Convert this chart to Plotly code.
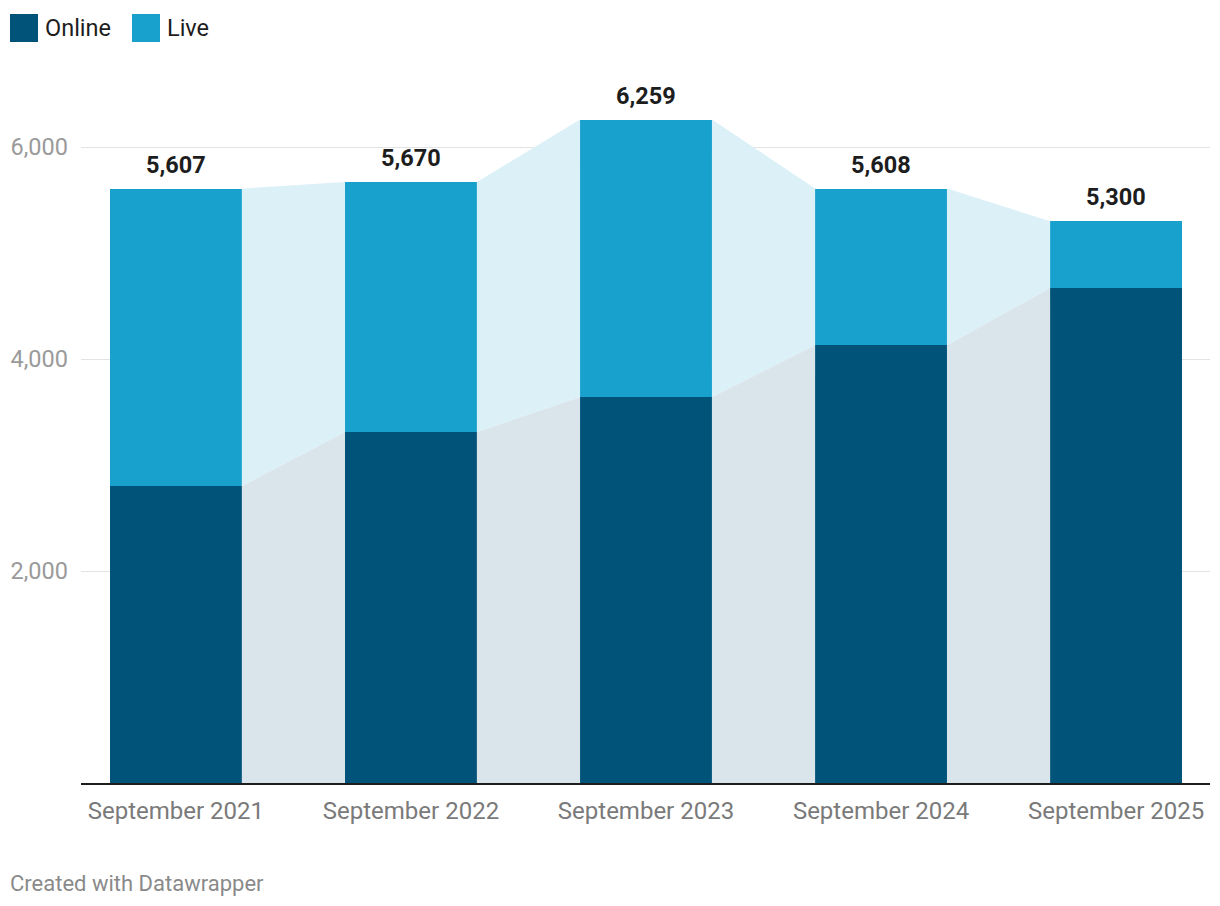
import plotly.graph_objects as go

categories = ["September 2021", "September 2022", "September 2023", "September 2024", "September 2025"]
online = [2800, 3310, 3640, 4130, 4670]
total = [5607, 5670, 6259, 5608, 5300]
live = [t - o for t, o in zip(total, online)]
total_labels = ["5,607", "5,670", "6,259", "5,608", "5,300"]

C_ONLINE = "#01537a"
C_LIVE = "#18a1cd"
C_LIVE_AREA = "#dcf0f7"
C_ONLINE_AREA = "#d9e4eb"
W = 0.561

xs = list(range(len(categories)))
fig = go.Figure()

# connecting areas
for i in range(len(xs) - 1):
    xa = xs[i] + W / 2
    xb = xs[i + 1] - W / 2
    fig.add_trace(go.Scatter(
        x=[xa, xb, xb, xa, xa], y=[total[i], total[i + 1], online[i + 1], online[i], total[i]],
        fill="toself", fillcolor=C_LIVE_AREA, line=dict(width=0), mode="lines",
        hoverinfo="skip", showlegend=False))
    fig.add_trace(go.Scatter(
        x=[xa, xb, xb, xa, xa], y=[online[i], online[i + 1], 0, 0, online[i]],
        fill="toself", fillcolor=C_ONLINE_AREA, line=dict(width=0), mode="lines",
        hoverinfo="skip", showlegend=False))

fig.add_trace(go.Bar(x=xs, y=online, name="Online", marker=dict(color=C_ONLINE, line=dict(width=0)),
                     width=W, showlegend=False))
fig.add_trace(go.Bar(x=xs, y=live, name="Live", marker=dict(color=C_LIVE, line=dict(width=0)),
                     width=W, showlegend=False))

annotations = []
for x, t, lab in zip(xs, total, total_labels):
    annotations.append(dict(x=x, y=t, text="<b>" + lab + "</b>", showarrow=False,
                            xref="x", yref="y", yanchor="bottom", yshift=8,
                            font=dict(family="Roboto", size=23.5, color="#1d1d1d")))

# page pixel -> paper coords (plot area spans page x 81..1210, y 90..783)
def px_x(p):
    return (p - 81) / 1129

def px_y(p):
    return (783 - p) / 693

shapes = []
for x0, col in [(10, C_ONLINE), (132, C_LIVE)]:
    shapes.append(dict(type="rect", xref="paper", yref="paper",
                       x0=px_x(x0), x1=px_x(x0 + 28), y0=px_y(42), y1=px_y(14),
                       fillcolor=col, line=dict(width=0)))
for x0, txt in [(43, "Online"), (165, "Live")]:
    annotations.append(dict(x=px_x(x0), y=px_y(28), xref="paper", yref="paper", text=txt,
                            showarrow=False, xanchor="left", yanchor="middle",
                            font=dict(family="Roboto", size=23.5, color="#1d1d1d")))

annotations.append(dict(x=px_x(8), y=px_y(883), xref="paper", yref="paper",
                        text="Created with Datawrapper", showarrow=False,
                        xanchor="left", yanchor="middle",
                        font=dict(family="Roboto", size=22, color="#8a8a8a")))

# page has an 8px body offset
fig.update_layout(
    width=1220, height=906,
    margin=dict(l=73, r=18, t=82, b=131, autoexpand=False),
    barmode="stack", bargap=0,
    plot_bgcolor="white", paper_bgcolor="white",
    font=dict(family="Roboto"),
    showlegend=False,
    annotations=annotations, shapes=shapes,
    xaxis=dict(range=[-0.4038, 4.3996], tickmode="array", tickvals=xs, ticktext=categories,
               showgrid=False, zeroline=False, showline=True, linecolor="#1d1d1d", linewidth=2,
               ticks="", tickfont=dict(family="Roboto", size=24, color="#7a7a7a"),
               ticklabelstandoff=5, fixedrange=True, automargin=False),
    yaxis=dict(range=[0, 6537.7], tickmode="array", tickvals=[2000, 4000, 6000],
               ticktext=["2,000", "4,000", "6,000"], showgrid=True, gridcolor="#e3e3e3",
               gridwidth=1, zeroline=False, showline=False, ticks="",
               tickfont=dict(family="Roboto", size=23.5, color="#9a9a9a"), ticklabelstandoff=12,
               fixedrange=True, automargin=False),
)

fig.write_html("out.html")
